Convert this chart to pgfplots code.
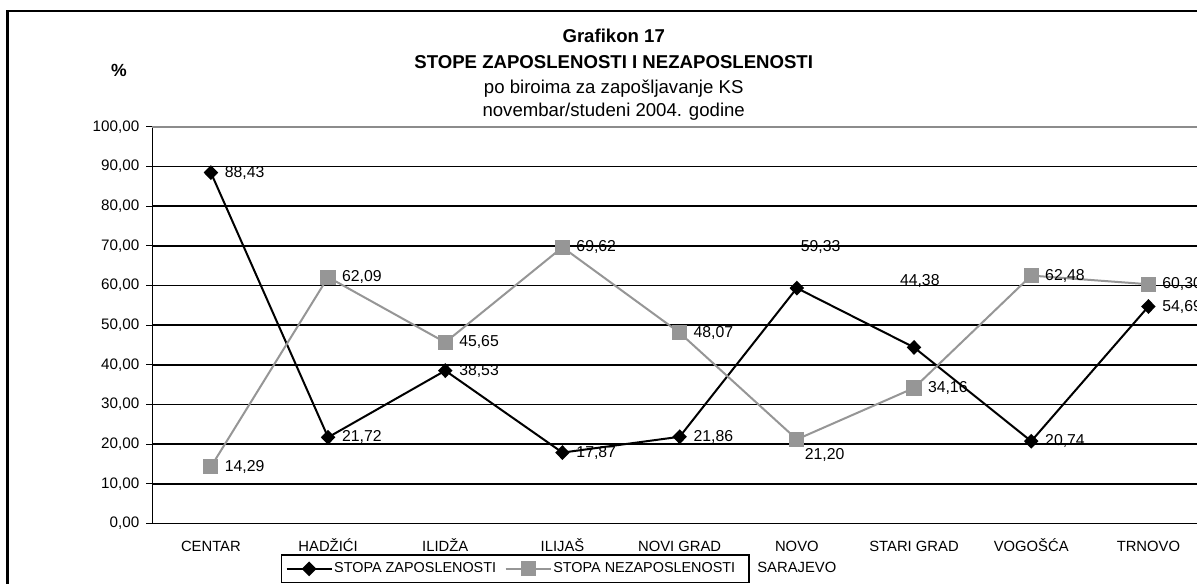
\documentclass[border=0pt]{standalone}
\usepackage{fontspec}
\setmainfont{Liberation Sans}
\usepackage{pgfplots}
\usepackage{pgfplotstable}
\pgfplotsset{compat=1.18}
\definecolor{sgray}{RGB}{150,150,150}
\definecolor{bgray}{RGB}{140,140,140}

\pgfplotstableread{
x y dx dy
0 88.43 0 0
1 21.72 0 0
2 38.53 0 0
3 17.87 0 0
4 21.86 0 0
5 59.33 -10 41
6 44.38 -28 66
7 20.74 0 0
8 54.69 0 0
}\zap

\pgfplotstableread{
x y dx dy
0 14.29 0 0
1 62.09 0 0
2 45.65 0 0
3 69.62 0 0
4 48.07 0 0
5 21.20 -6 -16
6 34.16 0 0
7 62.48 0 0
8 60.30 0 0
}\nez

\begin{document}
\begin{tikzpicture}
\useasboundingbox (0,0) rectangle (598.5pt,-291.5pt);
\clip (0,0) rectangle (598.5pt,-291.5pt);
\fill[white] (0,0) rectangle (598.5pt,-291.5pt);
% chart frame
\draw[black, line width=1.25pt] (3.65pt,-5.5pt) rectangle (620pt,-300pt);
% titles
\node[anchor=base, font=\bfseries\fontsize{9.3}{11}\selectfont] at (306.85pt,-21.3pt) {Grafikon 17};
\node[anchor=base, font=\bfseries\fontsize{9.3}{11}\selectfont] at (306.85pt,-34.3pt) {STOPE ZAPOSLENOSTI I NEZAPOSLENOSTI};
\node[anchor=base, font=\fontsize{9.3}{11}\selectfont] at (306.85pt,-46.65pt) {po biroima za zapošljavanje KS};
\node[anchor=base, font=\fontsize{9.3}{11}\selectfont] at (306.85pt,-58.35pt) {novembar/studeni 2004. godine};
\node[anchor=base, font=\bfseries\fontsize{8.8}{10}\selectfont] at (59.5pt,-38pt) {\%};

\begin{axis}[
  scale only axis,
  width=527.35pt, height=198.4pt,
  at={(76.15pt,-261.75pt)}, anchor=south west,
  xmin=-0.5, xmax=8.5, ymin=0, ymax=100,
  axis x line*=bottom, axis y line*=left,
  axis line style={black, line width=0.5pt},
  tick pos=left,
  tick align=outside,
  xtick=data,
  xticklabels={\strut CENTAR,\strut HADŽIĆI,\strut ILIDŽA,\strut ILIJAŠ,\strut NOVI GRAD,{\strut NOVO\\SARAJEVO},\strut STARI GRAD,\strut VOGOŠĆA,\strut TRNOVO},
  x tick style={draw=none},
  xticklabel style={font=\fontsize{7.4}{10.5}\selectfont, align=center},
  extra x ticks={-0.5,0.5,...,8.5},
  extra x tick labels={},
  extra x tick style={major tick length=2pt, tick style={draw=black, line width=0.5pt}},
  ytick={10,20,...,90},
  extra y ticks={0,100},
  extra y tick style={grid=none},
  ymajorgrids,
  major grid style={black, line width=0.8pt},
  y tick style={black, line width=0.5pt},
  major tick length=3pt,
  yticklabel style={font=\fontsize{7.6}{9}\selectfont},
  scaled y ticks=false,
  /pgf/number format/fixed,
  /pgf/number format/fixed zerofill,
  /pgf/number format/precision=2,
  /pgf/number format/use comma,
  /pgf/number format/assume math mode=true,
  legend columns=2,
  legend style={at={(0.122,-0.0776)}, anchor=north west, draw=black, line width=0.65pt,
    inner xsep=2pt, inner ysep=2.9pt, nodes={inner sep=0.8pt},
    font=\fontsize{7.2}{8.5}\selectfont, /tikz/every even column/.append style={column sep=3.5pt}},
  legend cell align=left,
  legend image code/.code={\draw[mark repeat=2,mark phase=2,#1] plot coordinates {(0pt,0pt) (11.25pt,0pt) (22.5pt,0pt)};},
  nodes near coords={\pgfmathprintnumber{\pgfplotspointmeta}},
  visualization depends on={\thisrow{dx} \as \dx},
  visualization depends on={\thisrow{dy} \as \dy},
  every node near coord/.append style={anchor=west, inner sep=0pt, text=black,
    font=\fontsize{7.9}{9}\selectfont, xshift={6.5pt+(\dx)*0.5pt}, yshift={(\dy)*0.5pt}},
  clip=false,
]
\addplot[color=black, line width=1pt, mark=diamond*, mark size=3pt, mark options={solid, fill=black, xscale=1.3}] table[x=x, y=y] {\zap};
\addlegendentry{STOPA ZAPOSLENOSTI}
\addplot[color=sgray, line width=1pt, mark=square*, mark size=3.3pt, mark options={solid, fill=sgray, draw=sgray}] table[x=x, y=y] {\nez};
\addlegendentry{STOPA NEZAPOSLENOSTI\kern 4pt}
\draw[bgray, line width=1pt] (rel axis cs:0,1) -- (rel axis cs:1,1);
\end{axis}
\end{tikzpicture}
\end{document}
